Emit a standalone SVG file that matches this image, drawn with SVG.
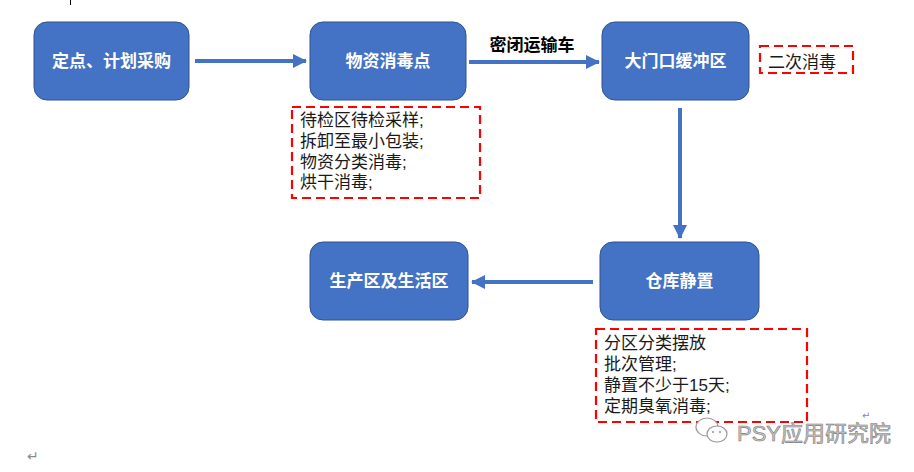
<svg xmlns="http://www.w3.org/2000/svg" width="914" height="472" viewBox="0 0 914 472">
<defs>
<style>
.box{fill:#4472C4;stroke:#2F528F;stroke-width:1}
.lbl{font-family:"Liberation Sans","Noto Sans CJK SC",sans-serif;font-size:17px;font-weight:bold;fill:#fff;text-anchor:middle}
.note{font-family:"Liberation Sans","Noto Sans CJK SC",sans-serif;font-size:17px;fill:#1a1a1a}
.dash{fill:none;stroke:#FF0000;stroke-width:2.2;stroke-dasharray:9 5}
.conn{stroke:#4472C4;stroke-width:4;fill:none;marker-end:url(#ah)}
.wm{font-family:"Liberation Sans","Noto Sans CJK SC",sans-serif;font-size:22px;fill:#c8c8c8;stroke:#7a7a7a;stroke-width:0.6}
</style>
<marker id="ah" viewBox="0 0 14 14" refX="13" refY="7" markerWidth="14" markerHeight="14" markerUnits="userSpaceOnUse" orient="auto">
<path d="M0,0 L14,7 L0,14 Z" fill="#4472C4"/>
</marker>
</defs>
<rect width="914" height="472" fill="#fff"/>
<line x1="70.5" y1="0" x2="70.5" y2="5" stroke="#000" stroke-width="1"/>

<g id="connectors">
<line class="conn" x1="195" y1="61" x2="306" y2="61"/>
<line class="conn" x1="469" y1="62" x2="599" y2="62"/>
<line class="conn" x1="680" y1="108" x2="680" y2="238"/>
<line class="conn" x1="593" y1="282" x2="472" y2="282"/>
<text x="532" y="51" font-family="'Liberation Sans','Noto Sans CJK SC',sans-serif" font-size="17" font-weight="bold" fill="#000" text-anchor="middle">密闭运输车</text>
</g>

<g id="n1">
<rect class="box" x="34" y="22" width="155" height="78" rx="13"/>
<text class="lbl" x="111.5" y="67">定点、计划采购</text>
</g>
<g id="n2">
<rect class="box" x="310" y="22" width="156" height="78" rx="13"/>
<text class="lbl" x="388" y="67">物资消毒点</text>
</g>
<g id="n3">
<rect class="box" x="602" y="22" width="147" height="78" rx="13"/>
<text class="lbl" x="675.5" y="67">大门口缓冲区</text>
</g>
<g id="n4">
<rect class="box" x="600" y="242" width="159" height="78" rx="13"/>
<text class="lbl" x="679.5" y="287">仓库静置</text>
</g>
<g id="n5">
<rect class="box" x="310" y="242" width="158" height="78" rx="13"/>
<text class="lbl" x="389" y="287">生产区及生活区</text>
</g>

<g id="note1">
<rect class="dash" x="292" y="107" width="188" height="91"/>
<text class="note" x="300" y="126">待检区待检采样;</text>
<text class="note" x="300" y="147">拆卸至最小包装;</text>
<text class="note" x="300" y="168">物资分类消毒;</text>
<text class="note" x="300" y="188">烘干消毒;</text>
</g>
<g id="note2">
<rect class="dash" x="760" y="46" width="93" height="27"/>
<text class="note" x="768" y="68">二次消毒</text>
</g>
<g id="note3">
<rect class="dash" x="596" y="329" width="211" height="93"/>
<text class="note" x="604" y="349">分区分类摆放</text>
<text class="note" x="604" y="370">批次管理;</text>
<text class="note" x="604" y="391">静置不少于15天;</text>
<text class="note" x="604" y="412">定期臭氧消毒;</text>
</g>

<g id="watermark">
<ellipse cx="707" cy="427" rx="11" ry="9" fill="#fff" stroke="#9a9a9a" stroke-width="1.2"/>
<ellipse cx="717" cy="434" rx="10" ry="8" fill="#fff" stroke="#9a9a9a" stroke-width="1.2"/>
<circle cx="713" cy="432" r="1.1" fill="#9a9a9a"/>
<circle cx="720" cy="432" r="1.1" fill="#9a9a9a"/>
<text class="wm" x="737" y="441">PSY应用研究院</text>
<text x="862" y="419" font-family="'DejaVu Sans',sans-serif" font-size="10" fill="#8a8a8a">↵</text>
</g>
<text x="27" y="461" font-family="'DejaVu Sans',sans-serif" font-size="14" fill="#8a8a8a">↵</text>
</svg>
